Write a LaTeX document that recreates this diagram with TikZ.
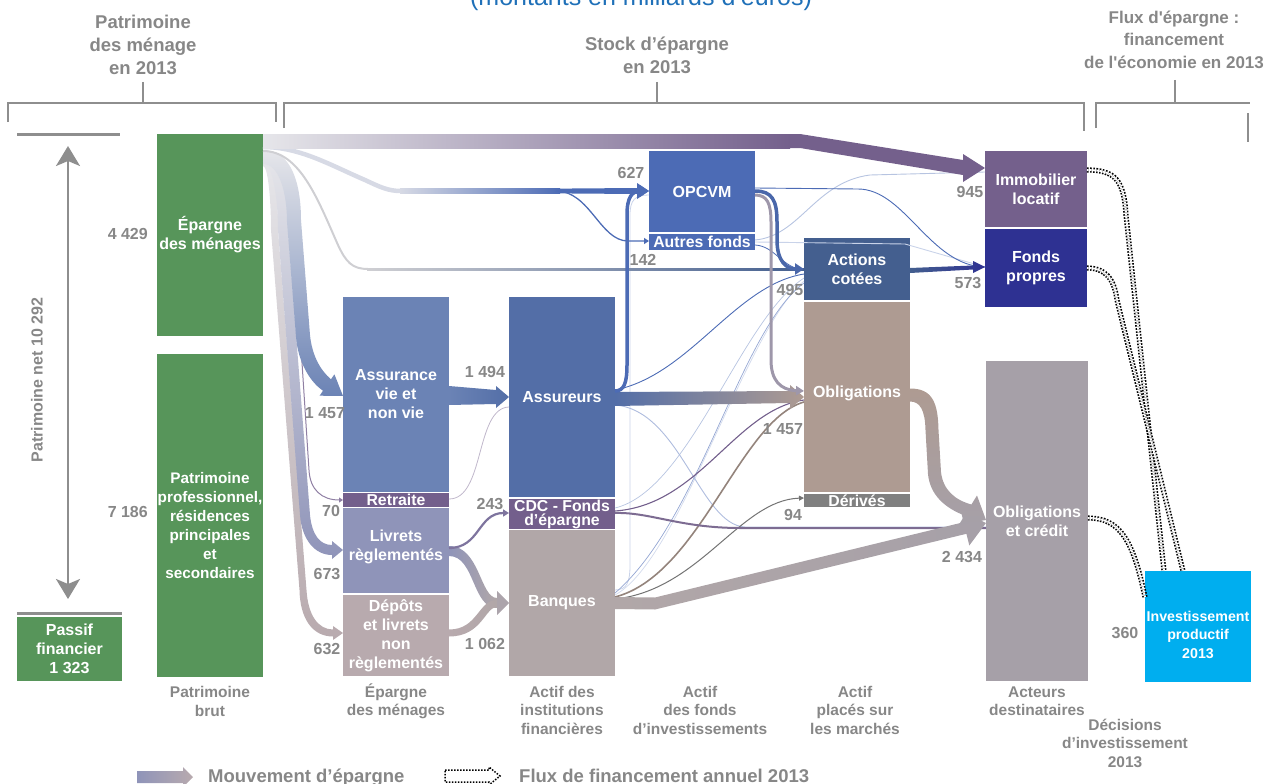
\documentclass[tikz,border=0pt]{standalone}
\usepackage{fontspec}
\setmainfont{Liberation Sans}[Ligatures=TeXOff]
\usetikzlibrary{arrows.meta}
\definecolor{cGreen}{HTML}{57955A}
\definecolor{cText}{HTML}{878787}
\definecolor{cLine}{HTML}{8E8E8E}
\definecolor{cAssur}{HTML}{6B83B5}
\definecolor{cAssureurs}{HTML}{536EA7}
\definecolor{cRetraite}{HTML}{735F8C}
\definecolor{cLivrets}{HTML}{8F94B9}
\definecolor{cDepots}{HTML}{B8AAAE}
\definecolor{cCDC}{HTML}{735F8C}
\definecolor{cBanques}{HTML}{B1A7A8}
\definecolor{cOPCVM}{HTML}{4C6BB5}
\definecolor{cActions}{HTML}{445F8F}
\definecolor{cOblig}{HTML}{AE9B92}
\definecolor{cDerives}{HTML}{808080}
\definecolor{cImmo}{HTML}{74608C}
\definecolor{cFonds}{HTML}{2E3192}
\definecolor{cOblCred}{HTML}{A6A0A8}
\definecolor{cInvest}{HTML}{00AEEF}
\definecolor{cTitle}{HTML}{1F70B8}
\definecolor{cLight}{HTML}{E6E6EA}
\definecolor{cMix}{HTML}{9E97AA}
\begin{document}
\begin{tikzpicture}[x=1pt, y=-1pt,
  bx/.style={inner sep=0pt, outer sep=0pt, text=white, align=center, font=\bfseries\fontsize{16}{19}\selectfont},
  bt/.style={inner sep=0pt, text=white, align=center, font=\bfseries\fontsize{16}{19}\selectfont},
  smallt/.style={font=\bfseries\fontsize{15.8}{14}\selectfont},
  vl/.style={inner sep=0pt, text=cText, font=\bfseries\fontsize{16}{18}\selectfont},
  btm/.style={inner sep=0pt, text=cText, align=center, font=\bfseries\fontsize{15.5}{18.5}\selectfont},
  hdr/.style={inner sep=0pt, text=cText, align=center, font=\bfseries\fontsize{18.5}{23}\selectfont},
  brk/.style={draw=cLine, line width=2.5pt},
  dbl/.style={draw=black, line width=1.6pt, dash pattern=on 1.6pt off 1.5pt, double=white, double distance=2pt},
  dotl/.style={draw=black, line width=1.5pt, dash pattern=on 1.5pt off 1.5pt},
]
\useasboundingbox (0,0) rectangle (1267,784);

% title (cut at the top)
\node[text=cTitle, font=\fontsize{25}{25}\selectfont, anchor=base, inner sep=0pt] (title) at (641,6) {(montants en milliards d’euros)};

% headers and brackets
\node[hdr] (h1) at (143,45) {Patrimoine\\des ménage\\en 2013};
\node[hdr] (h2) at (657,55.5) {Stock d’épargne\\en 2013};
\node[hdr, font=\bfseries\fontsize{17}{22.5}\selectfont] (h3) at (1174,39.5) {Flux d\textquotesingle épargne :\\financement\\de l\textquotesingle économie en 2013};
\draw[brk] (8,122) -- (8,103) -- (276,103) -- (276,122);
\draw[brk] (143,82) -- (143,103);
\draw[brk] (284,128) -- (284,103) -- (1084,103) -- (1084,131);
\draw[brk] (657,82) -- (657,103);
\draw[brk] (1096,128) -- (1096,103) -- (1250,103);
\draw[brk] (1175,80) -- (1175,103);
\draw[brk] (1248,113) -- (1248,142);

% boxes
\node[bx, fill=cGreen, minimum width=106pt, minimum height=202pt] (epargne) at (210,235) {Épargne\\des ménages};
\node[bx, fill=cGreen, minimum width=106pt, minimum height=323pt] (patri) at (210,515.5) {};
\node[bt, font=\bfseries\fontsize{15.3}{19}\selectfont] (patrit) at (210,526) {Patrimoine\\professionnel,\\résidences\\principales\\et\\secondaires};
\node[bx, fill=cGreen, minimum width=105pt, minimum height=64pt] (passif) at (69.5,649) {Passif\\financier\\1 323};

\node[bx, fill=cAssur, minimum width=106pt, minimum height=195pt] (assur) at (396,394.5) {Assurance\\vie et\\non vie};
\node[bx, smallt, fill=cRetraite, minimum width=106pt, minimum height=14pt] (retraite) at (396,500) {Retraite};
\node[bx, fill=cLivrets, minimum width=106pt, minimum height=85pt] (livrets) at (396,550.5) {};
\node[bt] (livretst) at (396,546.5) {Livrets\\règlementés};
\node[bx, fill=cDepots, minimum width=106pt, minimum height=81pt] (depots) at (396,635.5) {Dépôts\\et livrets\\non\\règlementés};

\node[bx, fill=cAssureurs, minimum width=106pt, minimum height=200pt] (assureurs) at (562,397) {Assureurs};
\node[bx, smallt, fill=cCDC, minimum width=106pt, minimum height=30pt] (cdc) at (562,514) {CDC - Fonds\\d’épargne};
\node[bx, fill=cBanques, minimum width=106pt, minimum height=146pt] (banques) at (562,603) {Banques};

\node[bx, fill=cOPCVM, minimum width=106pt, minimum height=81pt] (opcvm) at (702,191.5) {OPCVM};
\node[bx, smallt, fill=cOPCVM, minimum width=106pt, minimum height=16pt] (autres) at (702,242) {Autres fonds};

\node[bx, fill=cActions, minimum width=106pt, minimum height=62pt] (actions) at (857,269) {Actions\\cotées};
\node[bx, fill=cOblig, minimum width=106pt, minimum height=190pt] (oblig) at (857,397) {};
\node[bt] (obligt) at (857,393) {Obligations};
\node[bx, smallt, fill=cDerives, minimum width=106pt, minimum height=13pt] (derives) at (857,500.5) {Dérivés};

\node[bx, fill=cImmo, minimum width=102pt, minimum height=76pt] (immo) at (1036,189) {Immobilier\\locatif};
\node[bx, fill=cFonds, minimum width=102pt, minimum height=78pt] (fonds) at (1036,268) {Fonds\\propres};
\node[bx, fill=cOblCred, minimum width=102pt, minimum height=320pt] (oblcred) at (1037,521) {Obligations\\et crédit};
\node[bx, fill=cInvest, minimum width=106pt, minimum height=111pt] (invest) at (1198,626.5) {};
\node[bt, font=\bfseries\fontsize{14.2}{18.5}\selectfont] (investt) at (1198,634.5) {Investissement\\productif\\2013};

% left side: lines, double arrow, rotated label
\coordinate (topl) at (17,134); \coordinate (topr) at (120,134);
\draw[draw=cLine, line width=3pt] (topl) -- (topr);
\coordinate (pl) at (17,613); \coordinate (pr) at (122,613);
\draw[draw=cLine, line width=3pt] (pl) -- (pr);
\coordinate (arrT) at (68,146); \coordinate (arrB) at (68,599);
\draw[draw=cLine, line width=2.2pt, {Stealth[width=24pt,length=20pt,inset=5pt]}-{Stealth[width=24pt,length=20pt,inset=5pt]}] (arrT) -- (arrB);
\node[rotate=90, inner sep=0pt, text=cText, font=\bfseries\fontsize{16}{16}\selectfont] (pnet) at (37,380) {Patrimoine net 10 292};

% ---------- thin flows ----------
\draw[draw=cOPCVM!30!white, line width=0.8pt] (banques.east |- 0,590) .. controls (627,590) and (630,582) .. (630,565) -- (630,215) .. controls (630,200) and (635,195) .. (opcvm.west |- 0,195);
\draw[draw=cOPCVM!40!white, line width=0.9pt] (autres.east |- 0,240) .. controls (800,236) and (815,182) .. (870,175) -- (immo.west |- 0,172);
\draw[draw=cOPCVM!30!white, line width=0.9pt] (autres.east |- 0,242) -- (905,244) -- (fonds.west |- 0,267);
\draw[draw=cOPCVM!40!white, line width=0.7pt] (cdc.east |- 0,508) .. controls (690,490) and (740,320) .. (actions.west |- 0,278);
\draw[draw=cOPCVM!25!white, line width=0.7pt] (banques.east |- 0,595) .. controls (680,560) and (745,330) .. (actions.west |- 0,281);
\draw[draw=cOPCVM!60!white, line width=0.7pt] (banques.east |- 0,593) .. controls (700,520) and (740,330) .. (actions.west |- 0,283);
\draw[draw=cOPCVM!45!white, line width=0.9pt] (assureurs.east |- 0,405) .. controls (680,410) and (700,525) .. (745,527) -- (oblcred.west |- 0,527);
\draw[draw=cOPCVM, line width=0.9pt] (opcvm.east |- 0,188) -- (858,189) .. controls (905,189) and (930,266) .. (fonds.west |- 0,267);
\draw[draw=cOPCVM, line width=0.8pt] (autres.east |- 0,245) .. controls (775,246) and (782,268) .. (actions.west |- 0,270);
\draw[draw=cOPCVM, line width=0.9pt] (assureurs.east |- 0,390) .. controls (690,375) and (735,285) .. (actions.west |- 0,274);
\draw[draw=cCDC, line width=1.1pt] (cdc.east |- 0,511) .. controls (700,505) and (735,410) .. (oblig.west |- 0,400);
\draw[draw=cOblig!85!black, line width=1.6pt] (banques.east |- 0,597) .. controls (700,575) and (740,420) .. (oblig.west |- 0,402);
\draw[draw=cDerives!90!black, line width=1pt, -{Triangle[width=5pt,length=5pt]}] (banques.east |- 0,599) .. controls (700,590) and (740,500) .. (derives.west |- 0,498);
\draw[draw=cRetraite!45!white, line width=0.8pt] (retraite.east |- 0,499) .. controls (485,499) and (475,408) .. (assureurs.west |- 0,407);
\draw[draw=cRetraite!80!white, line width=1pt, -{Triangle[width=5pt,length=4pt]}] (epargne.east |- 0,161) .. controls (286,161) and (292,195) .. (294,240) -- (309,470) .. controls (310,490) and (322,500) .. (retraite.west |- 0,500);

% ---------- bands from Epargne ----------
\shade[top color=cLight, bottom color=cDepots]
 (epargne.east |- 0,158) .. controls (274,158) and (278,190) .. (278,230) -- (306.5,590) .. controls (308,615) and (318,629.5) .. (333,629.5) -- (333,626) -- (depots.west |- 0,633) -- (333,640) -- (333,636.5) .. controls (312,636.5) and (300,618) .. (299.5,590) -- (271,230) .. controls (271,200) and (268,166) .. (epargne.east |- 0,166) -- cycle;
\shade[top color=cLight, bottom color=cLivrets]
 (epargne.east |- 0,154) .. controls (281,154) and (288,190) .. (288,230) -- (310,515) .. controls (312,535) and (320,545) .. (332,545) -- (332,541) -- (livrets.west |- 0,550) -- (332,559) -- (332,555) .. controls (315,555) and (302,540) .. (300,515) -- (278,230) .. controls (278,200) and (273,163) .. (epargne.east |- 0,163) -- cycle;
\shade[top color=cLight, bottom color=cAssur]
 (epargne.east |- 0,150) .. controls (292,150) and (301,185) .. (301,220) -- (310,335) .. controls (312,355) and (320,370) .. (331,379.3) -- (334.4,374.3) -- (assur.west |- 0,396) -- (319.6,395.7) -- (323,390.7) .. controls (310,382) and (298,362) .. (296,337) -- (287,222) .. controls (287,195) and (280,164) .. (epargne.east |- 0,164) -- cycle;

% Epargne -> OPCVM
\draw[draw=cLight!90!cOPCVM, line width=4.5pt] (epargne.east |- 0,147) .. controls (300,147) and (330,165) .. (365,180) .. controls (380,187) and (388,191) .. (401,191);
\shade[left color=cLight!90!cOPCVM, right color=cOPCVM] (400,188.75) rectangle (560,193.25);
\fill[cOPCVM] (559,188.6) -- (637,188) -- (637,183) -- (opcvm.west |- 0,191) -- (637,199) -- (637,194) -- (559,193.4) -- cycle;
\coordinate (br) at (556,191);
\draw[draw=cOPCVM, line width=1.3pt, -{Triangle[width=6pt,length=5pt]}] (br) .. controls (590,191) and (600,241) .. (628,241) -- (autres.west |- 0,241);

% Epargne -> Actions
\draw[draw=cLight!90!black, line width=2pt] (epargne.east |- 0,151) .. controls (300,151) and (318,200) .. (338,245) .. controls (346,262) and (352,269) .. (368,269);
\shade[left color=cLight!90!black, right color=cActions] (367,268) rectangle (actions.west |- 0,270);

% Epargne -> Immobilier locatif
\shade[left color=cLight, right color=cImmo] (epargne.north east) rectangle (790,148);
\fill[cImmo] (789.5,134) -- (800,134) -- (963,160) -- (963,154) -- (immo.west |- 0,168) -- (963,182) -- (963,175) -- (800,148) -- (789.5,148) -- cycle;

% Assurance -> Assureurs
\shade[left color=cAssur, right color=cAssureurs] (assur.east |- 0,386) -- (496,390) -- (496,386) -- (assureurs.west |- 0,397) -- (496,408) -- (496,404) -- (assur.east |- 0,405) -- cycle;
% Assureurs -> Obligations
\shade[left color=cAssureurs, right color=cOblig] (assureurs.east |- 0,392) -- (790,391) -- (790,385) -- (oblig.west |- 0,397) -- (790,409) -- (790,403) -- (assureurs.east |- 0,406) -- cycle;
% Livrets / Depots -> Banques
\shade[left color=cLivrets, right color=cBanques] (livrets.east |- 0,546) .. controls (480,546) and (480,598) .. (497,598) -- (497,608) .. controls (472,608) and (475,556) .. (livrets.east |- 0,556) -- cycle;
\shade[left color=cDepots, right color=cBanques] (depots.east |- 0,629.5) .. controls (478,629.5) and (478,600) .. (497,600) -- (497,607) .. controls (485,607) and (482,636.5) .. (depots.east |- 0,636.5) -- cycle;
\fill[cBanques!85!cLivrets] (497,591) -- (banques.west |- 0,603) -- (497,615) -- cycle;
% Livrets -> CDC
\draw[draw=cLivrets!40!cCDC, line width=2.2pt, -{Triangle[width=7pt,length=6pt]}] (livrets.east |- 0,548) .. controls (480,548) and (478,513) .. (cdc.west |- 0,513);
% CDC -> Obligations et credit
\draw[draw=cCDC!80!cOblCred, line width=2pt] (cdc.east |- 0,513) .. controls (650,512) and (680,528) .. (740,528) -- (oblcred.west |- 0,528);
% Banques -> Obligations et credit
\shade[left color=cBanques, right color=cOblCred] (banques.east |- 0,597) -- (655,597.5) -- (963.6,522.2) -- (960.7,510.5) -- (oblcred.west |- 0,523) -- (969.3,545.5) -- (966.4,533.8) -- (655,609.5) -- (banques.east |- 0,609) -- cycle;
% Obligations -> Obligations et credit
\shade[top color=cOblig, bottom color=cOblCred] (oblig.east |- 0,388.5) .. controls (932,388.5) and (938,402) .. (938.5,430) -- (941,472) .. controls (943,490) and (955,500) .. (971.4,504.5) -- (977,495.5) -- (oblcred.west |- 0,520) -- (959,524.5) -- (964.6,515.5) .. controls (945,508) and (930,495) .. (928,474) -- (925.5,430) .. controls (925,410) and (920,401.5) .. (oblig.east |- 0,401.5) -- cycle;
% Actions -> Fonds propres
\shade[left color=cActions, right color=cFonds] (actions.east |- 0,268) -- (973,265.5) -- (973,261) -- (fonds.west |- 0,267) -- (973,273) -- (973,269.5) -- (actions.east |- 0,273) -- cycle;

% thick lines
\draw[draw=cOPCVM, line width=3.5pt, -{Triangle[width=11pt,length=9pt]}] (assureurs.east |- 0,391) .. controls (624,391) and (627,383) .. (627,365) -- (627,215) .. controls (627,197) and (632,191) .. (opcvm.west |- 0,191);
\draw[draw=cMix, line width=3pt, -{Triangle[width=9pt,length=8pt]}] (opcvm.east |- 0,195) .. controls (767,195) and (771,203) .. (771,222) -- (771,360) .. controls (771,380) and (780,390) .. (oblig.west |- 0,391);
\draw[draw=cOPCVM!70!cActions, line width=3.5pt, -{Triangle[width=11pt,length=9pt]}] (opcvm.east |- 0,191) .. controls (772,191) and (777,200) .. (777,222) -- (777,240) .. controls (777,262) and (787,269) .. (actions.west |- 0,269);

% dotted financing flows
\draw[dbl] (immo.east |- 0,170) .. controls (1115,170) and (1124,180) .. (1126,215) -- (1164,0 |- invest.north);
\draw[dbl] (fonds.east |- 0,268) .. controls (1105,268) and (1114,278) .. (1117,300) -- (1183,0 |- invest.north);
\draw[dbl] (oblcred.east |- 0,518) .. controls (1120,518) and (1133,540) .. (invest.west |- 0,597);

% values
\node[vl, anchor=east] (v1) at (148,234) {4 429};
\node[vl, anchor=east] (v2) at (148,512) {7 186};
\node[vl] (v3) at (631,173) {627};
\node[vl] (v4) at (643,260) {142};
\node[vl] (v5) at (485,372) {1 494};
\node[vl] (v6) at (325,413) {1 457};
\node[vl] (v7) at (331,511) {70};
\node[vl] (v8) at (327,574) {673};
\node[vl] (v9) at (327,649) {632};
\node[vl] (v10) at (490,504) {243};
\node[vl] (v11) at (485,644) {1 062};
\node[vl] (v12) at (790,290) {495};
\node[vl] (v13) at (783,429) {1 457};
\node[vl] (v14) at (793,515) {94};
\node[vl] (v15) at (970,192) {945};
\node[vl] (v16) at (968,283) {573};
\node[vl] (v17) at (962,557) {2 434};
\node[vl] (v18) at (1125,633) {360};

% bottom captions
\node[btm] (c1) at (210,701.5) {Patrimoine\\brut};
\node[btm] (c2) at (396,701.5) {Épargne\\des ménages};
\node[btm] (c3) at (562,710) {Actif des\\institutions\\financières};
\node[btm] (c4) at (700,710) {Actif\\des fonds\\d’investissements};
\node[btm] (c5) at (855,710) {Actif\\placés sur\\les marchés};
\node[btm] (c6) at (1037,701) {Acteurs\\destinataires};
\node[btm] (c7) at (1125,743) {Décisions\\d’investissement\\2013};

% legend
\shade[left color=cLivrets, right color=cDepots] (137,771) -- (183,771) -- (183,767) -- (193,777) -- (183,787) -- (183,783) -- (137,783) -- cycle;
\node[anchor=base west, inner sep=0pt, text=cText, font=\bfseries\fontsize{18.5}{20}\selectfont] (leg1) at (208,782) {Mouvement d’épargne};
\draw[dotl] (445,770) -- (489,770) -- (489,767) -- (500,776) -- (489,785) -- (489,782) -- (445,782) -- cycle;
\node[anchor=base west, inner sep=0pt, text=cText, font=\bfseries\fontsize{18.5}{20}\selectfont] (leg2) at (519,782) {Flux de financement annuel 2013};
\end{tikzpicture}
\end{document}
